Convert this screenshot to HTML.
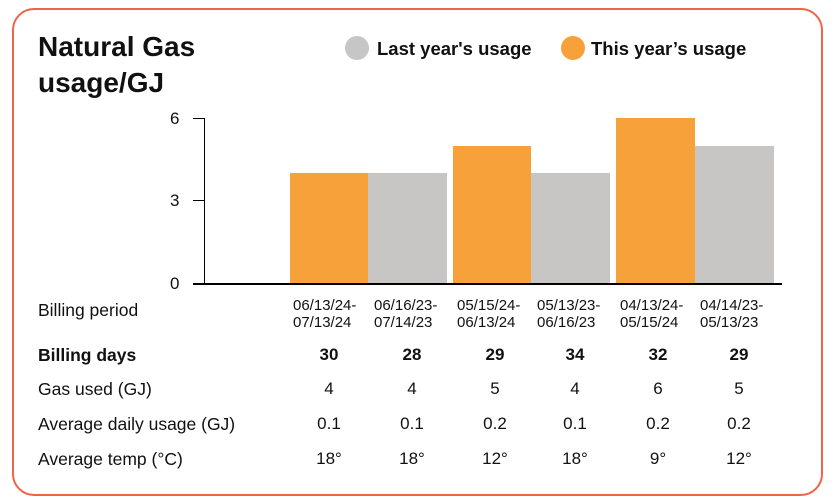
<!DOCTYPE html>
<html><head><style>
body{margin:0;background:#fff;font-family:"Liberation Sans",sans-serif;color:#111}
.card{position:absolute;left:12px;top:8px;width:807px;height:484px;border:2px solid #ED6446;border-radius:22px}
.t{position:absolute;white-space:nowrap}
.bar{position:absolute}
.o{background:#F7A13A}.g{background:#C7C6C4}
.lab{position:absolute;left:38px;font-size:17.5px}
.v{position:absolute;font-size:17px;width:80px;text-align:center}
.d{position:absolute;font-size:15px;line-height:17px}
</style></head><body>
<div class="card"></div>
<div class="t" style="left:38px;top:29px;font-size:28px;font-weight:bold;line-height:36px">Natural Gas<br>usage/GJ</div>
<div style="position:absolute;left:345px;top:36px;width:24px;height:24px;border-radius:50%;background:#C7C6C4"></div>
<div class="t" style="left:377px;top:38px;font-size:18.5px;font-weight:bold">Last year's usage</div>
<div style="position:absolute;left:561px;top:36px;width:24px;height:24px;border-radius:50%;background:#F7A13A"></div>
<div class="t" style="left:591px;top:38px;font-size:18.5px;font-weight:bold">This year’s usage</div>
<div class="t" style="left:170px;top:109px;font-size:17px">6</div>
<div class="t" style="left:170px;top:191px;font-size:17px">3</div>
<div class="t" style="left:170px;top:274px;font-size:17px">0</div>
<div style="position:absolute;left:193px;top:118px;width:11px;height:1px;background:#000"></div>
<div style="position:absolute;left:193px;top:200px;width:11px;height:1px;background:#000"></div>
<div style="position:absolute;left:204px;top:118px;width:1px;height:166px;background:#000"></div>
<div class="bar o" style="left:290px;top:173px;width:78px;height:111px"></div>
<div class="bar g" style="left:368px;top:173px;width:79px;height:111px"></div>
<div class="bar o" style="left:453px;top:146px;width:78px;height:138px"></div>
<div class="bar g" style="left:531px;top:173px;width:79px;height:111px"></div>
<div class="bar o" style="left:616px;top:118px;width:79px;height:166px"></div>
<div class="bar g" style="left:695px;top:146px;width:79px;height:138px"></div>
<div style="position:absolute;left:193px;top:283px;width:589px;height:2px;background:#000"></div>
<div class="lab" style="top:300px">Billing period</div>
<div class="lab" style="top:345px;font-weight:bold">Billing days</div>
<div class="lab" style="top:379px">Gas used (GJ)</div>
<div class="lab" style="top:414px">Average daily usage (GJ)</div>
<div class="lab" style="top:449px">Average temp (°C)</div>
<div class="d" style="left:293px;top:297px">06/13/24-<br>07/13/24</div>
<div class="d" style="left:374px;top:297px">06/16/23-<br>07/14/23</div>
<div class="d" style="left:457px;top:297px">05/15/24-<br>06/13/24</div>
<div class="d" style="left:537px;top:297px">05/13/23-<br>06/16/23</div>
<div class="d" style="left:620px;top:297px">04/13/24-<br>05/15/24</div>
<div class="d" style="left:700px;top:297px">04/14/23-<br>05/13/23</div>
<div style="font-weight:bold">
<div class="v" style="left:289px;top:345px">30</div><div class="v" style="left:372px;top:345px">28</div><div class="v" style="left:455px;top:345px">29</div><div class="v" style="left:535px;top:345px">34</div><div class="v" style="left:618px;top:345px">32</div><div class="v" style="left:699px;top:345px">29</div></div>
<div class="v" style="left:289px;top:379px">4</div><div class="v" style="left:372px;top:379px">4</div><div class="v" style="left:455px;top:379px">5</div><div class="v" style="left:535px;top:379px">4</div><div class="v" style="left:618px;top:379px">6</div><div class="v" style="left:699px;top:379px">5</div>
<div class="v" style="left:289px;top:414px">0.1</div><div class="v" style="left:372px;top:414px">0.1</div><div class="v" style="left:455px;top:414px">0.2</div><div class="v" style="left:535px;top:414px">0.1</div><div class="v" style="left:618px;top:414px">0.2</div><div class="v" style="left:699px;top:414px">0.2</div>
<div class="v" style="left:289px;top:449px">18°</div><div class="v" style="left:372px;top:449px">18°</div><div class="v" style="left:455px;top:449px">12°</div><div class="v" style="left:535px;top:449px">18°</div><div class="v" style="left:618px;top:449px">9°</div><div class="v" style="left:699px;top:449px">12°</div>
</body></html>
